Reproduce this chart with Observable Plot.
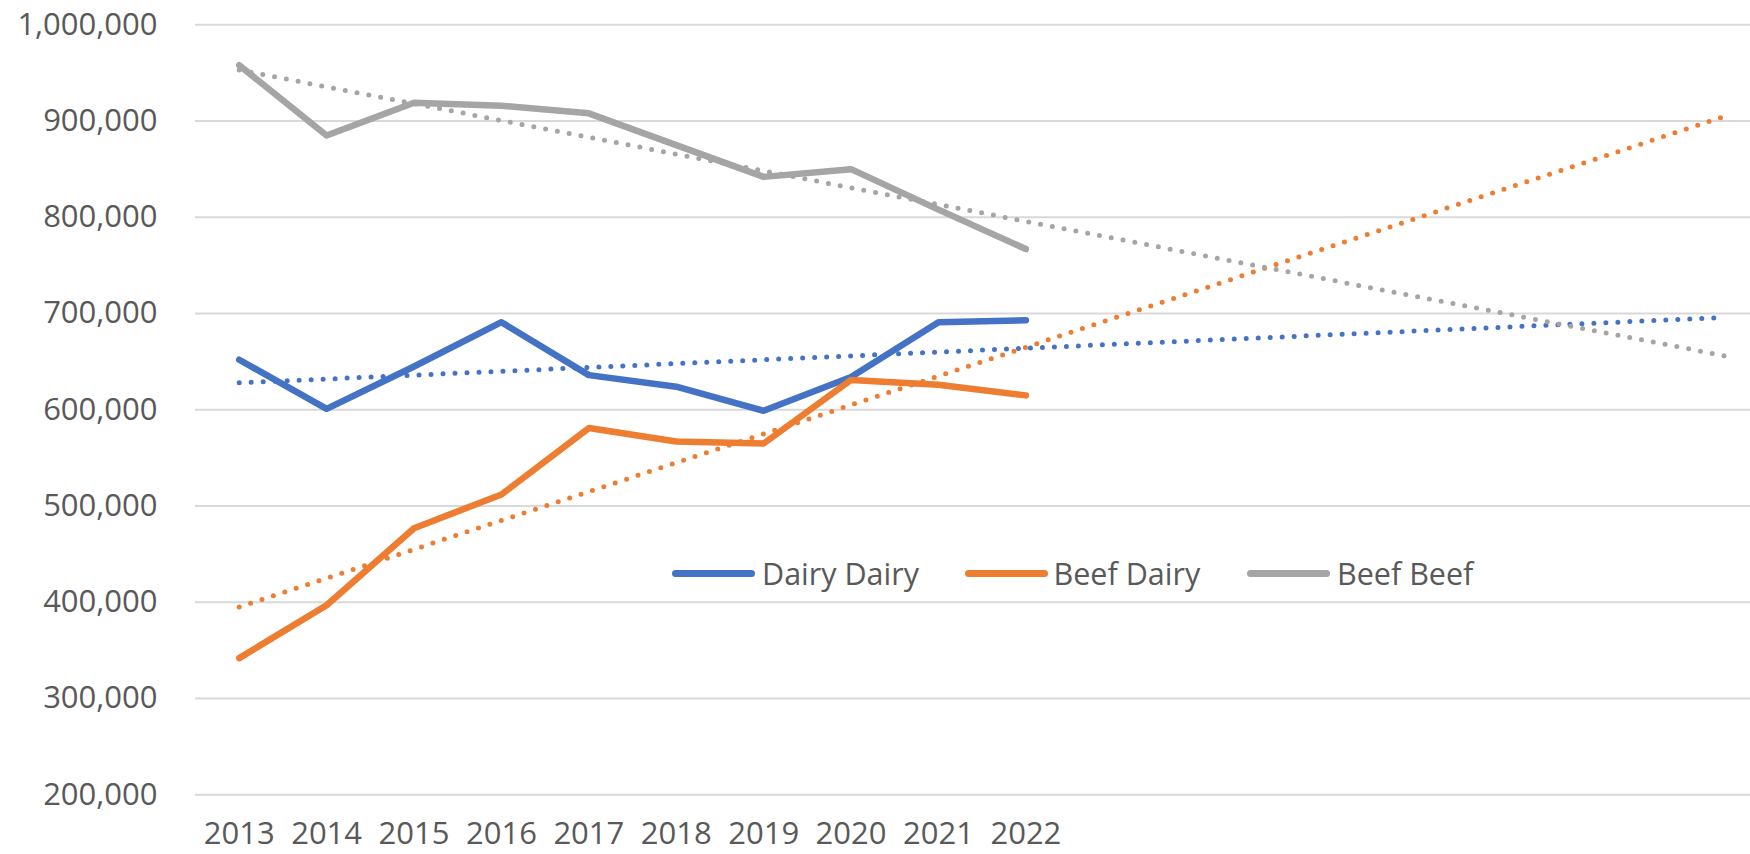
<!DOCTYPE html>
<html>
<head>
<meta charset="utf-8">
<script src="https://cdn.jsdelivr.net/npm/d3@7"></script>
<script src="https://cdn.jsdelivr.net/npm/@observablehq/plot@0.6"></script>
<style>
  html, body { margin: 0; padding: 0; background: #ffffff; }
  #wrap { position: relative; width: 1750px; height: 854px; overflow: hidden;
          font-family: "Open Sans", "Noto Sans", sans-serif; }
  #wrap svg { display: block; }
  .lg-swatch { position: absolute; height: 7px; width: 83px; border-radius: 3.5px; }
  .lg-text { position: absolute; font-size: 30.5px; line-height: 1; color: #595959; white-space: nowrap; }
</style>
</head>
<body>
<div id="wrap"></div>
<script>
// ---- data ----
const years = [2013, 2014, 2015, 2016, 2017, 2018, 2019, 2020, 2021, 2022];
const seriesNames = ["Dairy Dairy", "Beef Dairy", "Beef Beef"];
const dairyDairy = [652000, 601000, 645000, 691000, 636000, 624000, 599000, 634000, 691000, 693000];
const beefDairy  = [342000, 397000, 477000, 512000, 581000, 567000, 565000, 631000, 626000, 615000];
const beefBeef   = [958000, 885000, 919000, 916000, 908000, 875000, 842000, 850000, 808000, 767000];
// linear trend lines (Excel forecast forward to 2030), endpoints
const trendYears = [2013, 2030];
const trendDairyDairy = [628000, 696000];
const trendBeefDairy  = [395000, 905000];
const trendBeefBeef   = [953000, 656000];
const yTicks = [200000, 300000, 400000, 500000, 600000, 700000, 800000, 900000, 1000000];
const colors = ["#4472C4", "#ED7D31", "#A5A5A5"];

// ---- tables built from the arrays ----
const seriesValues = [dairyDairy, beefDairy, beefBeef];
const trendValues = [trendDairyDairy, trendBeefDairy, trendBeefBeef];
const table = seriesNames.flatMap((s, i) => years.map((yr, j) => ({series: s, year: yr, value: seriesValues[i][j]})));
const trend = seriesNames.flatMap((s, i) => trendYears.map((yr, j) => ({series: s, year: yr, value: trendValues[i][j]})));

const chart = Plot.plot({
  width: 1750,
  height: 854,
  marginLeft: 195,
  marginRight: 0,
  marginTop: 24.3,
  marginBottom: 59.7,
  style: { fontFamily: '"Open Sans", "Noto Sans", sans-serif', fontSize: "31px", color: "#595959", background: "#ffffff", overflow: "visible" },
  x: { type: "linear", domain: [2012.5, 2030.29], ticks: years, tickFormat: d => String(d), tickSize: 0, tickPadding: 27.5, label: null },
  y: { domain: [200000, 1000000], ticks: yTicks, tickFormat: d3.format(","), tickSize: 0, tickPadding: 38, label: null },
  color: { domain: seriesNames, range: colors },
  marks: [
    Plot.gridY(yTicks, { stroke: "#d9d9d9", strokeOpacity: 1, strokeWidth: 2 }),
    Plot.line(table, { x: "year", y: "value", z: "series", stroke: "series", strokeWidth: 6.5, strokeLinejoin: "round", strokeLinecap: "round" }),
    Plot.line(trend, { x: "year", y: "value", z: "series", stroke: "series", strokeWidth: 5, strokeDasharray: "0 12", strokeLinecap: "round" })
  ]
});

const wrap = document.getElementById("wrap");
wrap.appendChild(chart);

// ---- legend overlaid inside the plot area ----
const legendCenterY = 573;
const swatchLeft = [672, 964.5, 1247];
const textLeft = [762, 1053.5, 1337];
seriesNames.forEach((name, i) => {
  const sw = document.createElement("div");
  sw.className = "lg-swatch";
  sw.style.left = swatchLeft[i] + "px";
  sw.style.top = (legendCenterY - 3.5) + "px";
  sw.style.background = colors[i];
  wrap.appendChild(sw);
  const tx = document.createElement("div");
  tx.className = "lg-text";
  tx.textContent = name;
  tx.style.left = textLeft[i] + "px";
  tx.style.top = (legendCenterY - 15.5) + "px";
  wrap.appendChild(tx);
});
</script>
</body>
</html>
